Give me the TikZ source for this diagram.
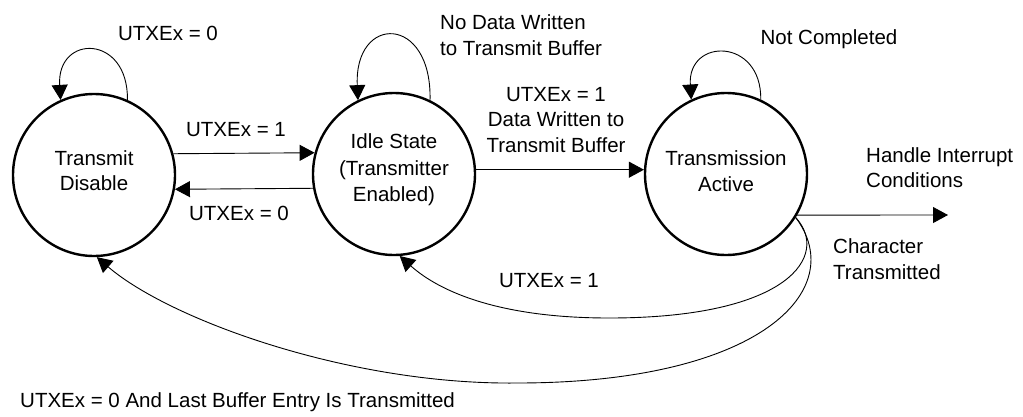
\documentclass[tikz,border=0pt]{standalone}
\usepackage{fontspec}
\setmainfont{Liberation Sans}
\usetikzlibrary{arrows.meta}
\begin{document}
\begin{tikzpicture}[x=1pt,y=-1pt,
  state/.style={circle,draw,line width=2.4pt,minimum size=162pt,inner sep=0pt},
  lbl/.style={inner sep=0pt,font=\fontsize{20.5}{25.5}\selectfont},
  conn/.style={line width=0.9pt,-{Triangle[length=15pt,width=16pt]}},
  ]
\useasboundingbox (0,0) rectangle (1023,416);
\node[state] (td) at (94,175) {};
\node[state] (idle) at (394,174) {};
\node[state] (ta) at (726,174) {};
\node[lbl,align=center] (tdt) at ([yshift=4.5pt]td.center) {Transmit\\Disable};
\node[lbl,align=center,font=\fontsize{20.5}{26.5}\selectfont] (idlet) at ([yshift=4pt]idle.center) {Idle State\\(Transmitter\\Enabled)};
\node[lbl,align=center] (tat) at ([yshift=3pt]ta.center) {Transmission\\Active};
\coordinate (hout) at (948,215);
% self loops
\draw[conn] (td.66) .. controls +(1,-66) and +(-4,-66) .. (td.114);
\draw[conn] (idle.64) .. controls +(2,-86) and +(-4,-86) .. (idle.116);
\draw[conn] (ta.65) .. controls +(1,-62) and +(-4,-62) .. (ta.115);
% straight transitions
\draw[conn] (td.15) -- (idle.165);
\draw[conn] (idle.190) -- (td.-10);
\draw[conn] (idle.3) -- (ta.177);
\draw[conn] (ta.-30) -- (hout);
% return curves
\draw[conn] (ta.-32) .. controls (830,255) and (790,318) .. (609,318) .. controls (500,318) and (440,292) .. (idle.-86);
\draw[conn] (ta.-32) .. controls (850,290) and (760,383) .. (517,383) .. controls (350,385) and (170,320) .. (td.-88);
% labels
\node[lbl] (l1) at (168,33) {UTXEx = 0};
\node[lbl] (l2) at (236,130) {UTXEx = 1};
\node[lbl] (l3) at (239,213) {UTXEx = 0};
\node[lbl,align=left,anchor=west] (l4) at (440,35) {No Data Written\\to Transmit Buffer};
\node[lbl,align=center] (l5) at (556,120) {UTXEx = 1\\Data Written to\\Transmit Buffer};
\node[lbl] (l6) at (829,39) {Not Completed};
\node[lbl,align=left,anchor=west] (l7) at (866,167.5) {Handle Interrupt\\Conditions};
\node[lbl,align=left,anchor=west] (l8) at (833,259) {Character\\Transmitted};
\node[lbl] (l9) at (549,281) {UTXEx = 1};
\node[lbl,anchor=west] (l10) at (20,402) {UTXEx = 0 And Last Buffer Entry Is Transmitted};
\end{tikzpicture}
\end{document}
